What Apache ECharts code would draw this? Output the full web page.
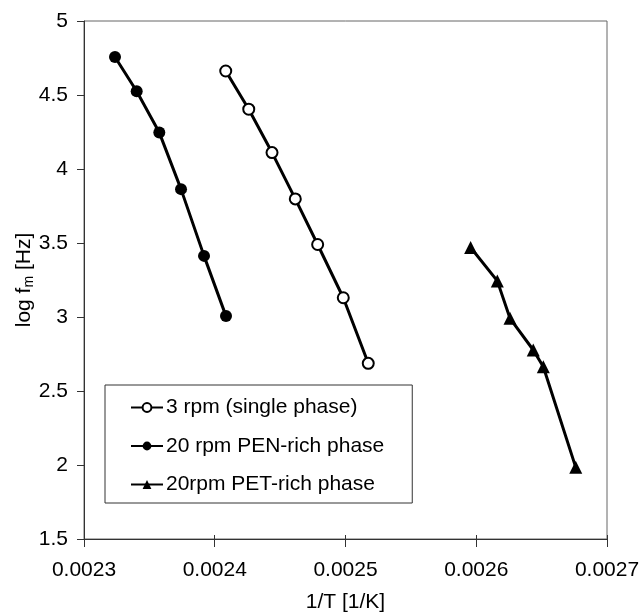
<!DOCTYPE html>
<html>
<head>
<meta charset="utf-8">
<script src="https://cdn.jsdelivr.net/npm/echarts@6/dist/echarts.min.js"></script>
<style>
html,body{margin:0;padding:0;background:#fff;}
#chart{width:640px;height:613px;}
</style>
</head>
<body>
<div id="chart"></div>
<script>
// Data
const seriesNames = ['3 rpm (single phase)', '20 rpm PEN-rich phase', '20rpm PET-rich phase'];
const singleX = [0.0024084, 0.0024260, 0.0024438, 0.0024616, 0.0024787, 0.0024983, 0.0025174];
const singleY = [4.662, 4.404, 4.111, 3.798, 3.490, 3.130, 2.687];
const penX = [0.0023237, 0.0023403, 0.0023576, 0.0023742, 0.0023918, 0.0024086];
const penY = [4.757, 4.525, 4.246, 3.864, 3.413, 3.006];
const petX = [0.0025957, 0.0026161, 0.0026258, 0.0026436, 0.0026513, 0.0026761];
const petY = [3.470, 3.244, 2.991, 2.777, 2.664, 1.984];
const xTicks = [0.0023, 0.0024, 0.0025, 0.0026, 0.0027];
const yTicks = [1.5, 2, 2.5, 3, 3.5, 4, 4.5, 5];

const font = '"Liberation Sans", Arial, sans-serif';
const FS = 21;
const pair = (xs, ys) => xs.map((x, i) => [x, ys[i]]);

const chart = echarts.init(document.getElementById('chart'));
const axisLabelStyle = {color: '#000', fontSize: FS, fontFamily: font};
chart.setOption({
  animation: false,
  backgroundColor: '#fff',
  grid: {left: 84, right: 33, top: 21, bottom: 74, show: true, borderColor: '#666', borderWidth: 1,
         containLabel: false, outerBoundsMode: 'none'},
  xAxis: [{
    type: 'value', min: xTicks[0], max: xTicks[xTicks.length - 1], interval: 0.0001,
    axisLine: {show: true, onZero: false, lineStyle: {color: '#333', width: 1}},
    axisTick: {show: true, length: 8, lineStyle: {color: '#333'}},
    axisLabel: Object.assign({margin: 21, formatter: v => v.toFixed(4)}, axisLabelStyle),
    splitLine: {show: false},
    name: '1/T [1/K]', nameLocation: 'middle', nameGap: 53, nameMoveOverlap: false,
    nameTextStyle: {color: '#000', fontSize: FS, fontFamily: font}
  }, {
    type: 'value', min: xTicks[0], max: xTicks[xTicks.length - 1], interval: 0.0001, position: 'bottom',
    axisLine: {show: false}, axisTick: {show: true, inside: true, length: 4, lineStyle: {color: '#333'}},
    axisLabel: {show: false}, splitLine: {show: false}
  }],
  yAxis: {
    type: 'value', min: yTicks[0], max: yTicks[yTicks.length - 1], interval: 0.5,
    axisLine: {show: true, onZero: false, lineStyle: {color: '#333', width: 1}},
    axisTick: {show: true, length: 7, lineStyle: {color: '#333'}},
    axisLabel: Object.assign({margin: 16}, axisLabelStyle),
    splitLine: {show: false},
    name: '{a|log f}{s|m}{a| [Hz]}', nameLocation: 'middle', nameGap: 48, nameRotate: 90,
    nameMoveOverlap: false,
    nameTextStyle: {
      rich: {
        a: {color: '#000', fontSize: FS, fontFamily: font},
        s: {color: '#000', fontSize: 14, fontFamily: font, padding: [9, 0, 0, 0]}
      }
    }
  },
  legend: {
    orient: 'vertical', left: 105, top: 385,
    data: seriesNames,
    backgroundColor: '#fff', borderColor: '#333', borderWidth: 1,
    padding: [12, 28, 8, 25],
    itemWidth: 32, itemHeight: 11, itemGap: 17.5,
    textStyle: {color: '#000', fontSize: FS, fontFamily: font, lineHeight: 21, padding: [0, 0, 0, -2]}
  },
  series: [{
    name: seriesNames[0], type: 'line', data: pair(singleX, singleY),
    symbol: 'circle', symbolSize: 11,
    lineStyle: {color: '#000', width: 3},
    itemStyle: {color: '#fff', borderColor: '#000', borderWidth: 2}
  }, {
    name: seriesNames[1], type: 'line', data: pair(penX, penY),
    symbol: 'circle', symbolSize: 12,
    lineStyle: {color: '#000', width: 3},
    itemStyle: {color: '#000'}
  }, {
    name: seriesNames[2], type: 'line', data: pair(petX, petY),
    symbol: 'triangle', symbolSize: 13,
    lineStyle: {color: '#000', width: 3},
    itemStyle: {color: '#000'}
  }]
});
</script>
</body>
</html>
